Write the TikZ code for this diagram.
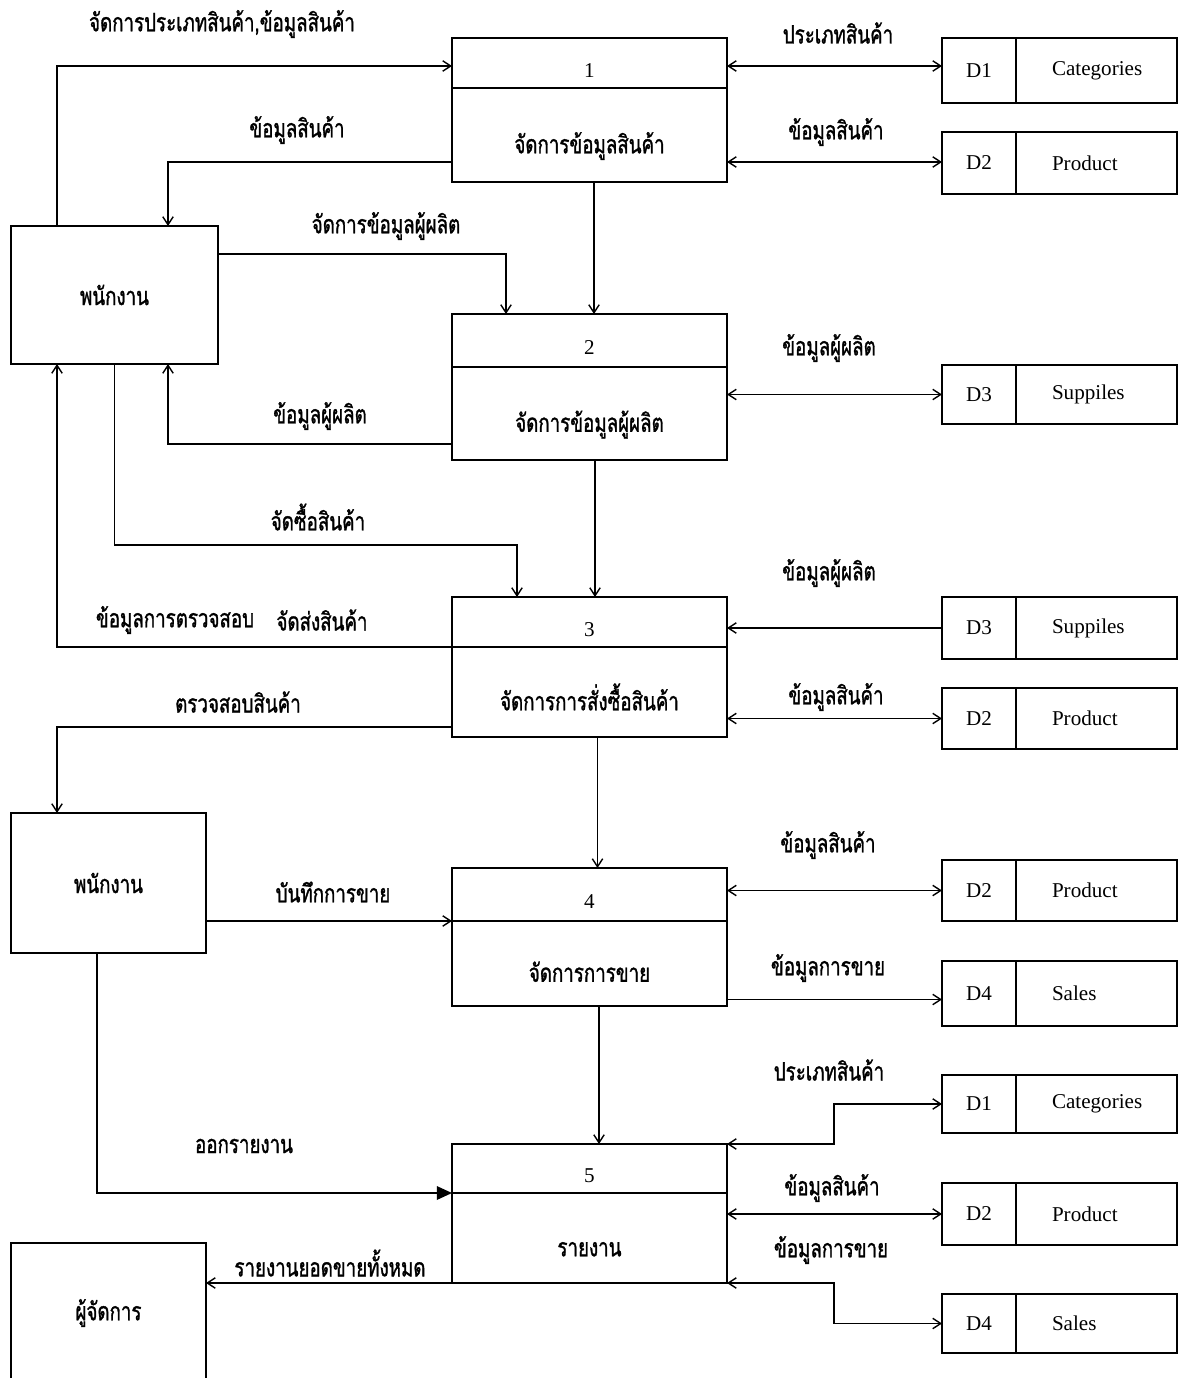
\documentclass[tikz,border=0pt]{standalone}
\usepackage{fontspec}
\setmainfont{Liberation Serif}
\newfontfamily\thaifont[Script=Thai, FakeStretch=0.74, FakeBold=1.2]{Loma}
\usetikzlibrary{positioning,arrows.meta}
\newcommand{\pxu}{0.025cm}
\newcommand{\thaitext}{\fontsize{18}{21}\selectfont\thaifont}

\tikzset{
    box/.style={draw, line width=1.2pt, inner sep=0pt, outer sep=0pt},
    numbox/.style={box, minimum width=275*\pxu, text height=20pt, text depth=0pt},
    procbox/.style={box, minimum width=275*\pxu, text height=26pt, text depth=0pt, font=\thaitext},
    entbox/.style={box, font=\thaitext},
    idbox/.style={box, minimum width=74*\pxu},
    namebox/.style={box, text width=89*\pxu, inner xsep=36*\pxu, align=left},
    lbl/.style={inner sep=1pt, font=\thaitext},
    flow/.style={line width=1pt, -{Straight Barb[length=2mm,width=2.6mm]}},
    bothflow/.style={line width=1pt, {Straight Barb[length=2mm,width=2.6mm]}-{Straight Barb[length=2mm,width=2.6mm]}},
    bigflow/.style={line width=1pt, -{Triangle[length=3.8mm,width=3.4mm]}}
}

\begin{document}
\begin{tikzpicture}[x=\pxu, y=-\pxu, font=\fontsize{15}{18}\selectfont]
    \useasboundingbox (0,0) rectangle (1179,1378);
    \clip (0,0) rectangle (1179,1378);

    % Draw the processes (number on top, name below)
    \foreach \n/\y/\toph/\both/\title in {1/38/50/94/{จัดการข้อมูลสินค้า},
            2/314/53/93/{จัดการข้อมูลผู้ผลิต},
            3/597/50/90/{จัดการการสั่งซื้อสินค้า},
            4/868/53/85/{จัดการการขาย},
            5/1144/49/90/{รายงาน}} {
        \node[numbox, minimum height=\toph*\pxu, anchor=north] (n\n) at (589.5,\y) {\n};
        \node[procbox, minimum height=\both*\pxu, below=0pt of n\n] (p\n) {\title};
    }

    % Draw the external entities
    \node[entbox, minimum width=207*\pxu, minimum height=138*\pxu] (e1) at (114.5,295) {พนักงาน};
    \node[entbox, minimum width=195*\pxu, minimum height=140*\pxu] (e2) at (108.5,883) {พนักงาน};
    \node[entbox, minimum width=195*\pxu, minimum height=140*\pxu] (e3) at (108.5,1313) {ผู้จัดการ};

    % Draw the data stores
    \foreach \nm/\id/\txt/\y/\h in {d1/D1/Categories/38/65, d2/D2/Product/132/62,
            d3/D3/Suppiles/365/59, d3b/D3/Suppiles/597/62, d2b/D2/Product/688/61,
            d2c/D2/Product/860/61, d4/D4/Sales/961/65, d1b/D1/Categories/1075/58,
            d2d/D2/Product/1183/62, d4b/D4/Sales/1294/59} {
        \node[idbox, minimum height=\h*\pxu, anchor=north west] (\nm) at (942,\y) {\id};
        \node[namebox, minimum height=\h*\pxu, right=0pt of \nm] (\nm-name) {\txt};
    }

    % Flows on the left
    \draw[flow] ([xshift=46*\pxu]e1.north west) |- ([yshift=-3*\pxu]n1.west);
    \draw[flow] ([yshift=-27*\pxu]p1.west) -| ([xshift=157*\pxu]e1.north west);
    \draw[flow] ([yshift=-28*\pxu]e1.north east) -| ([xshift=54*\pxu]n2.north west);
    \draw[flow] ([xshift=4.5*\pxu]p1.south) -- ([xshift=4.5*\pxu]n2.north);
    \draw[flow] ([yshift=-30.5*\pxu]p2.west) -| ([xshift=157*\pxu]e1.south west);
    \draw[flow] (e1.south) -- ++(0,181) -| ([xshift=65*\pxu]n3.north west);
    \draw[flow] ([xshift=5.5*\pxu]p2.south) -- ([xshift=5.5*\pxu]n3.north);
    \draw[flow] (n3.south west) -| ([xshift=46*\pxu]e1.south west);
    \draw[flow] ([yshift=-35*\pxu]p3.west) -| ([xshift=46*\pxu]e2.north west);
    \draw[flow] ([xshift=8*\pxu]p3.south) -- ([xshift=8*\pxu]n4.north);
    \draw[flow] (e2.east |- n4.south west) -- (n4.south west);
    \draw[flow] ([xshift=9.5*\pxu]p4.south) -- ([xshift=9.5*\pxu]n5.north);
    \draw[bigflow] ([xshift=86*\pxu]e2.south west) |- (n5.south west);
    \draw[flow] (p5.south west) -- (p5.south west -| e3.east);

    % Flows to the data stores
    \draw[bothflow] ([yshift=-3*\pxu]n1.east) -- ([yshift=-3*\pxu]n1.east -| d1.west);
    \draw[bothflow] ([yshift=-27*\pxu]p1.east) -- ([yshift=-27*\pxu]p1.east -| d2.west);
    \draw[bothflow] (d3.west -| p2.east) -- (d3.west);
    \draw[flow] (d3b.west) -- (d3b.west -| p3.east);
    \draw[bothflow] (d2b.west -| p3.east) -- (d2b.west);
    \draw[bothflow] (d2c.west -| n4.east) -- (d2c.west);
    \draw[flow] ([yshift=-6*\pxu]d4.west -| p4.east) -- ([yshift=-6*\pxu]d4.west);
    \draw[bothflow] (n5.north east) -- ++(107,0) |- (d1b.west);
    \draw[bothflow] (d2d.west -| p5.east) -- (d2d.west);
    \draw[bothflow] (p5.south east) -- ++(107,0) |- (d4b.west);

    % Flow labels
    \foreach \nm/\x/\y/\txt in {t1/222/24/{จัดการประเภทสินค้า,ข้อมูลสินค้า},
            t2/297/130/{ข้อมูลสินค้า}, t3/386/226/{จัดการข้อมูลผู้ผลิต},
            t4/320/416/{ข้อมูลผู้ผลิต}, t5/318/517/{จัดซื้อสินค้า},
            t6/175/620/{ข้อมูลการตรวจสอบ}, t7/322/620/{จัดส่งสินค้า},
            t8/238/702/{ตรวจสอบสินค้า}, t9/333/892/{บันทึกการขาย},
            t10/244/1146/{ออกรายงาน}, t11/330/1263/{รายงานยอดขายทั้งหมด},
            t12/838/33/{ประเภทสินค้า}, t13/836/132/{ข้อมูลสินค้า},
            t14/829/348/{ข้อมูลผู้ผลิต}, t15/829/573/{ข้อมูลผู้ผลิต},
            t16/836/697/{ข้อมูลสินค้า}, t17/828/845/{ข้อมูลสินค้า},
            t18/828/968/{ข้อมูลการขาย}, t19/829/1070/{ประเภทสินค้า},
            t20/832/1188/{ข้อมูลสินค้า}, t21/831/1250/{ข้อมูลการขาย}} {
        \node[lbl] (\nm) at (\x,\y) {\txt};
    }
\end{tikzpicture}
\end{document}
